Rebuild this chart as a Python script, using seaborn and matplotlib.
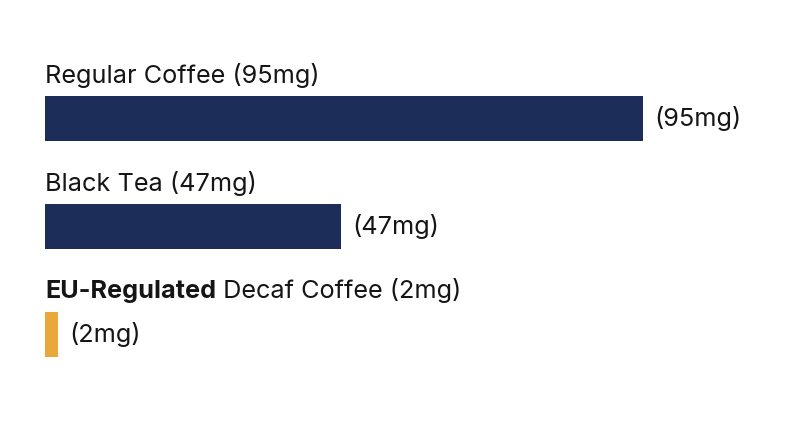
import pandas as pd
import numpy as np
import matplotlib.pyplot as plt
import seaborn as sns

drinks = ['Regular Coffee', 'Black Tea', 'Decaf Coffee']
caffeine_mg = [95, 47, 2]
bold_prefix = ['', '', 'EU-Regulated']
bar_colors = ['#1d2d5a', '#1d2d5a', '#eaa83a']

df = pd.DataFrame({'drink': drinks, 'mg': caffeine_mg})

sns.set_theme(style='white')
plt.rcParams['font.family'] = ['Inter', 'DejaVu Sans']

fig = plt.figure(figsize=(8, 4.47), dpi=100)
ax = fig.add_axes([45 / 800, 0, 755 / 800, 1])

sns.barplot(data=df, x='mg', y='drink', hue='drink', palette=bar_colors,
            width=45 / 108, legend=False, ax=ax, saturation=1, linewidth=0)

ax.set_xlim(0, 120)
ax.set_ylim(3.042, -1.097)
ax.axis('off')

fsize = 18.2
txt_color = '#151515'
for i, (name, mg, pre) in enumerate(zip(drinks, caffeine_mg, bold_prefix)):
    label = f'{name} ({mg}mg)'
    y_lab = i - 0.40
    if pre:
        t = ax.text(0, y_lab, pre, fontsize=fsize, fontweight='bold',
                    color=txt_color, va='center', ha='left')
        ax.annotate(' ' + label, xy=(1, 0), xycoords=t, va='bottom', ha='left',
                    fontsize=fsize, color=txt_color)
    else:
        ax.text(0, y_lab, label, fontsize=fsize, color=txt_color,
                va='center', ha='left')
    ax.text(mg + 1.8, i, f'({mg}mg)', fontsize=fsize, color=txt_color,
            va='center', ha='left')

fig.savefig('out.png', dpi=100, facecolor='white')
